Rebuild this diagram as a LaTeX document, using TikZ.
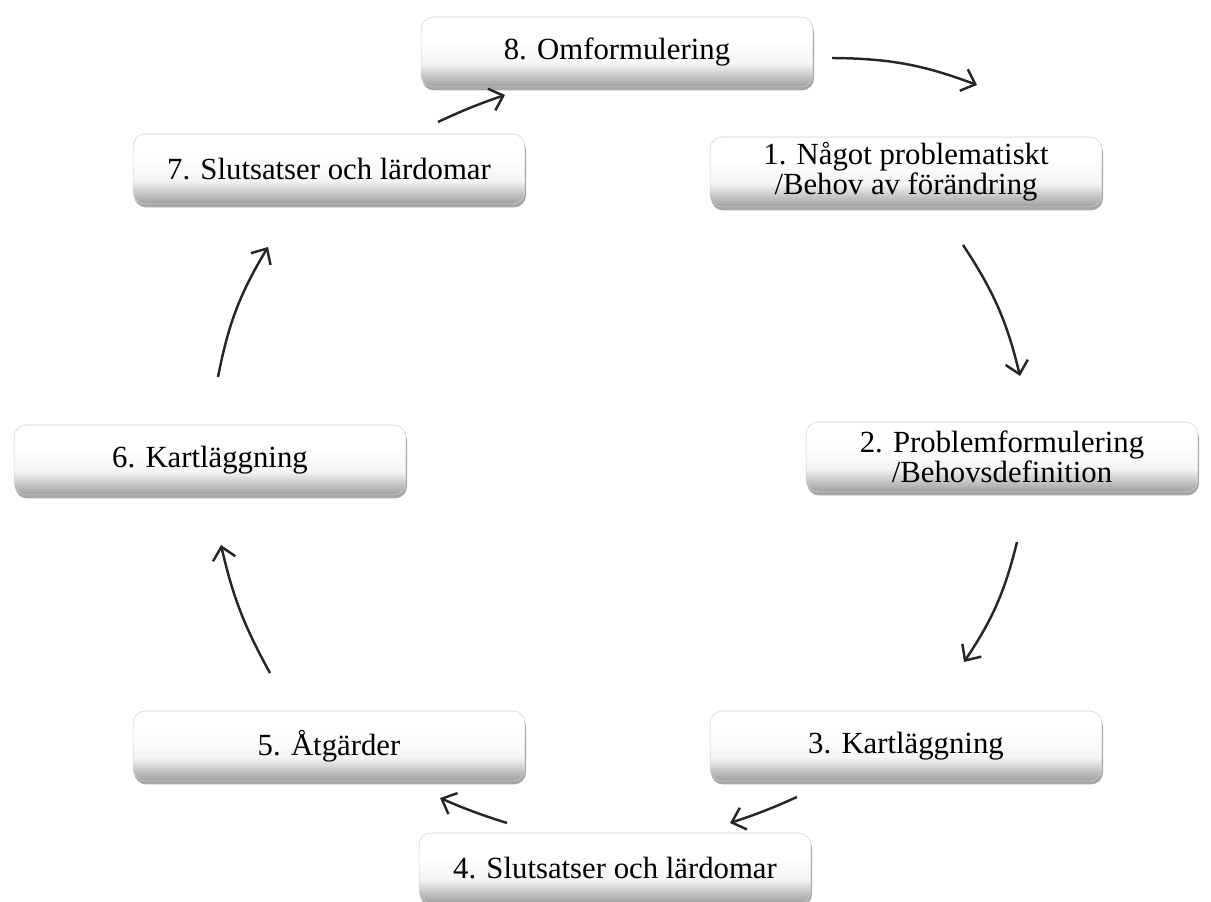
\documentclass[tikz,border=0pt]{standalone}
\usepackage{fontspec}
\setmainfont{Liberation Serif}
\usetikzlibrary{shadows,arrows.meta}

\pgfdeclareverticalshading{stageshade}{100bp}{color(0bp)=(black!38); color(25bp)=(black!38);
  color(42bp)=(black!4); color(60bp)=(white); color(100bp)=(white)}

\begin{document}
\begin{tikzpicture}[x=0.02cm, y=0.02cm,
    stage/.style={rounded corners=7pt, shading=stageshade,
      draw=black!18, line width=0.3pt,
      minimum width=7.84cm, minimum height=1.40cm,
      drop shadow={shadow xshift=0.6pt, shadow yshift=-2pt, opacity=0.7},
      font=\fontsize{17.5}{17}\selectfont, align=center, inner sep=0pt},
    turn/.style={line width=1.4pt, draw=black!85,
      -{Straight Barb[length=7pt, width=13pt, line width=1.4pt]}}]
  \useasboundingbox (0,0) rectangle (1211,902);

  % stages
  \node[stage] (n8) at (617,850) {8. Omformulering};
  \node[stage] (n1) at (906,730) {1. Något problematiskt\\/Behov av förändring};
  \node[stage] (n2) at (1002,445) {2. Problemformulering\\/Behovsdefinition};
  \node[stage] (n3) at (906,156) {3. Kartläggning};
  \node[stage] (n4) at (615,34) {4. Slutsatser och lärdomar};
  \node[stage] (n5) at (329,156) {5. Åtgärder};
  \node[stage] (n6) at (210,442) {6. Kartläggning};
  \node[stage] (n7) at (329,733) {7. Slutsatser och lärdomar};

  % arrow ends
  \coordinate (s81) at (832,844);  \coordinate (e81) at (977,817);
  \coordinate (s12) at (963,657);  \coordinate (e12) at (1020,526);
  \coordinate (s23) at (1017,360); \coordinate (e23) at (964,240);
  \coordinate (s34) at (797,105);  \coordinate (e34) at (730,79);
  \coordinate (s45) at (507,79);   \coordinate (e45) at (440,104);
  \coordinate (s56) at (270,229);  \coordinate (e56) at (221,357);
  \coordinate (s67) at (218,525);  \coordinate (e67) at (268,655);
  \coordinate (s78) at (438,780);  \coordinate (e78) at (505,807);

  % arrows
  \foreach \a/\b in {81/10, 12/10, 23/10, 34/3, 45/3, 56/8, 67/10, 78/3}
    \draw[turn] (s\a) to[bend left=\b] (e\a);
\end{tikzpicture}
\end{document}
